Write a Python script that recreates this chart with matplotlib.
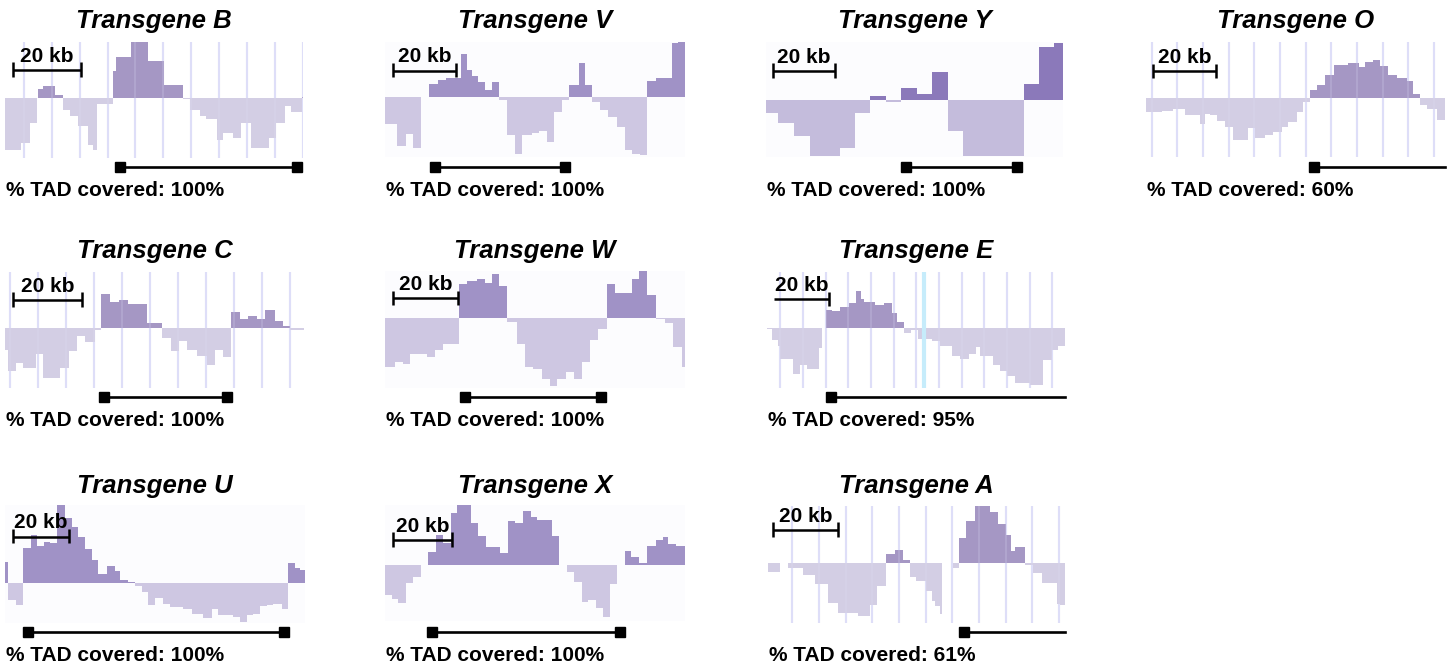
import numpy as np
import matplotlib
matplotlib.use('Agg')
import matplotlib.pyplot as plt
from matplotlib import transforms

plt.rcParams['font.family'] = ['Liberation Sans', 'DejaVu Sans']

# insulation-type score tracks, one step profile per transgene (x in kb)
names = ['B', 'V', 'Y', 'O', 'C', 'W', 'E', 'U', 'X', 'A']
covered = [100, 100, 100, 60, 100, 100, 95, 100, 100, 61]

b_edges = [0, 4.6, 7.4, 9.3, 9.8, 11.3, 14.7, 17.0, 19.1, 21.6, 24.5, 26.0, 27.2, 31.9, 32.6, 37.0,
           42.2, 46.8, 52.3, 54.4, 57.4, 59.3, 62.3, 64.2, 67.2, 69.6, 72.3, 77.7, 79.9, 82.4, 84.3,
           87.3, 87.7]
b_vals = [-1.3, -1.12, -0.62, 0, 0.23, 0.31, 0.07, -0.29, -0.46, -0.71, -1.17, -1.29, -0.15, 0.67,
          1.02, 1.4, 0.93, 0.33, -0.03, -0.29, -0.46, -0.52, -1.04, -0.88, -1.0, -0.62, -1.25, -1.0,
          -0.62, -0.21, -0.35, 0.02]

v_edges = [0, 3.7, 6.6, 8.9, 11.4, 14.0, 16.8, 19.3, 23.9, 26.0, 27.4, 29.2, 31.6, 33.7, 36.0, 38.4,
           41.1, 43.2, 46.3, 48.6, 51.1, 53.2, 55.8, 58.2, 61.1, 63.2, 65.3, 67.9, 70.5, 73.2, 75.8,
           77.9, 80.5, 82.6, 85.6, 90.5, 92.6, 94.7]
v_vals = [-0.67, -1.23, -0.92, -1.28, 0, 0.33, 0.42, 0.48, 1.07, 0.67, 0.52, 0.37, 0.18, 0.37, -0.08,
          -0.96, -1.42, -0.96, -0.9, -0.85, -1.12, -0.38, -0.08, 0.29, 0.86, 0.29, -0.12, -0.33, -0.5,
          -0.75, -1.33, -1.42, -1.46, 0.39, 0.48, 1.35, 1.4]

y_edges = [0, 4.0, 9.1, 14.1, 24.0, 28.9, 33.7, 38.9, 43.8, 48.9, 53.7, 58.8, 63.8, 83.5, 88.3, 93.2,
           96.2]
y_vals = [-0.33, -0.57, -0.9, -1.4, -1.19, -0.32, 0.11, -0.04, 0.31, 0.14, 0.71, -0.77, -1.4, 0.39,
          1.32, 1.42]

o_edges = [0, 4.9, 8.4, 12.3, 17.1, 18.6, 20.2, 22.5, 24.9, 27.6, 32.3, 34.4, 37.6, 40.2, 42.8, 44.9,
           47.6, 49.5, 51.8, 53.9, 56.5, 59.4, 63.9, 67.1, 69.2, 71.8, 73.9, 76.5, 79.2, 82.3, 84.4,
           86.5, 88.6, 91.8, 94.4]
o_vals = [-0.35, -0.32, -0.27, -0.42, -0.65, -0.4, -0.43, -0.58, -0.73, -1.04, -0.75, -1.0, -0.92,
          -0.86, -0.73, -0.6, -0.35, -0.1, 0.21, 0.33, 0.58, 0.83, 0.88, 0.77, 0.9, 0.96, 0.79, 0.57,
          0.5, 0.43, 0.1, -0.17, -0.27, -0.54]

c_edges = [0, 1.0, 3.2, 5.4, 9.1, 11.0, 16.1, 18.8, 21.2, 23.4, 26.3, 28.0, 30.7, 33.5, 36.1, 41.5,
           45.9, 48.5, 51.0, 53.2, 56.1, 59.0, 61.5, 63.9, 66.0, 68.8, 71.2, 73.7, 76.1, 79.0, 81.5,
           83.4, 87.5]
c_vals = [-0.54, -1.07, -0.88, -1.0, -0.65, -1.25, -1.0, -0.58, -0.21, -0.35, -0.04, 0.86, 0.65,
          0.71, 0.6, 0.13, -0.25, -0.57, -0.33, -0.54, -0.71, -0.92, -0.54, -0.73, 0.4, 0.23, 0.29,
          0.23, 0.46, 0.17, 0.04, -0.04]

w_edges = [0, 3.1, 5.4, 7.7, 12.8, 15.4, 17.9, 22.9, 25.3, 28.2, 30.8, 33.0, 35.2, 37.6, 40.5, 43.1,
           45.6, 48.2, 50.8, 53.0, 55.7, 58.2, 60.5, 63.1, 65.6, 68.2, 70.8, 75.9, 78.3, 80.7, 83.4,
           86.2, 88.7, 91.3, 92.3]
w_vals = [-1.22, -1.1, -1.14, -0.89, -0.98, -0.81, -0.64, 0.86, 0.93, 0.97, 0.88, 1.1, 0.8, -0.1,
          -0.64, -1.22, -1.28, -1.52, -1.7, -1.53, -1.35, -1.52, -1.1, -0.56, -0.27, 0.86, 0.63, 0.98,
          1.17, 0.58, -0.03, -0.12, -0.73, -1.22]

e_edges = [0, 1.8, 3.9, 4.8, 9.4, 12.0, 14.5, 18.7, 19.9, 21.4, 23.5, 26.3, 29.5, 32.3, 34.0, 35.2,
           39.2, 42.2, 45.2, 47.0, 49.6, 52.0, 54.8, 59.6, 62.7, 66.9, 69.9, 72.9, 75.7, 77.1, 81.9,
           84.3, 86.7, 89.8, 95.2, 100.0, 103.0, 105.4, 107.8]
e_vals = [-0.02, -0.29, -0.46, -0.77, -1.15, -0.92, -1.02, -0.5, 0, 0.46, 0.42, 0.52, 0.62, 0.93,
          0.73, 0.65, 0.57, 0.62, 0.37, 0.15, -0.12, -0.04, -0.27, -0.33, -0.46, -0.71, -0.77, -0.65,
          -0.48, -0.71, -0.92, -1.08, -1.21, -1.37, -1.42, -0.79, -0.54, -0.46]

u_edges = [0, 1.2, 4.0, 6.3, 9.2, 11.4, 14.0, 16.2, 18.8, 21.6, 24.0, 26.3, 28.7, 31.1, 33.5, 36.5,
           39.5, 41.3, 44.3, 46.7, 49.1, 51.5, 53.9, 56.9, 59.3, 64.1, 67.1, 71.3, 74.3, 76.6, 82.0,
           84.4, 86.8, 89.2, 91.6, 94.0, 96.4, 99.4, 101.8, 104.2, 106.0, 107.8]
u_vals = [0.53, -0.42, -0.56, 0.88, 1.19, 0.92, 1.03, 1.0, 1.94, 1.63, 1.4, 1.15, 0.86, 0.58, 0.23,
          0.42, 0.3, 0.08, 0.03, -0.08, -0.23, -0.56, -0.37, -0.52, -0.6, -0.64, -0.77, -0.87, -0.64,
          -0.81, -0.85, -0.97, -0.81, -0.77, -0.58, -0.56, -0.52, -0.64, 0.5, 0.38, 0.33]

x_edges = [0, 2.3, 4.5, 7.1, 9.6, 12.1, 14.7, 17.3, 19.5, 22.3, 24.5, 29.0, 31.6, 34.2, 39.0, 41.8,
           44.1, 46.7, 49.4, 51.6, 56.5, 59.1, 61.6, 64.1, 66.7, 68.9, 71.5, 74.0, 76.3, 78.8, 81.4,
           83.3, 86.2, 88.9, 91.9, 94.1, 96.0, 98.6, 101.7]
x_vals = [-0.75, -0.86, -0.94, -0.44, -0.29, 0, 0.33, 0.75, 0.56, 1.31, 1.5, 1.06, 0.73, 0.44, 0.31,
          1.11, 1.04, 1.35, 1.21, 1.13, 0.73, 0, -0.17, -0.42, -0.92, -0.88, -1.08, -1.29, -0.48, 0,
          0.36, 0.19, 0.04, 0.48, 0.63, 0.71, 0.53, 0.48]

a_edges = [0, 3.8, 6.2, 10.8, 14.4, 18.5, 21.5, 27.7, 31.3, 33.5, 36.2, 39.0, 41.5, 43.6, 45.6, 48.5,
           50.3, 51.3, 52.8, 53.6, 56.9, 58.8, 61.0, 63.6, 68.2, 70.8, 73.3, 74.6, 75.9, 79.0, 81.5,
           84.1, 88.7, 89.7, 91.3]
a_vals = [-0.23, 0, -0.13, -0.29, -0.52, -1.0, -1.25, -1.32, -1.04, -0.58, 0.23, 0.33, 0.07, -0.35,
          -0.46, -0.71, -0.96, -1.08, -1.27, 0, -0.12, 0.63, 1.04, 1.43, 1.27, 0.98, 0.71, 0.29, 0.4,
          -0.04, -0.25, -0.5, -1.02, -1.04]

tracks = [(b_edges, b_vals), (v_edges, v_vals), (y_edges, y_vals), (o_edges, o_vals),
          (c_edges, c_vals), (w_edges, w_vals), (e_edges, e_vals), (u_edges, u_vals),
          (x_edges, x_vals), (a_edges, a_vals)]

# TAD extent in kb (None = runs past the window)
tad_start = [33.7, 15.7, 45.4, 53.0, 28.9, 24.7, 23.2, 8.4, 16.0, 60.2]
tad_end = [85.8, 56.8, 81.4, None, 64.9, 66.5, None, 100.1, 79.7, None]

# 20 kb scale bar position (kb, score)
bar_x = [2.4, 2.5, 2.3, 2.2, 2.4, 2.5, 2.5, 2.9, 2.7, 1.5]
bar_y = [0.7, 0.66, 0.73, 0.67, 0.7, 0.49, 0.72, 1.16, 0.63, 0.83]

# gridline start / spacing in kb for the browser-style panels
grids = {'B': (5.6, 8.2), 'O': (1.8, 8.1), 'C': (1.5, 8.2), 'E': (4.8, 8.2), 'A': (7.5, 8.2)}

# ---- layout in pixels: track box (left, right, top, bottom, zero line), row index
W, H = 1453, 671
PX = 40.0  # pixels per score unit
boxes = [(5, 303, 42, 158, 98, 0), (385, 685, 42, 157, 97, 0), (766, 1063, 42, 157, 100, 0),
         (1146, 1445, 42, 157, 98, 0), (5, 304, 272, 388, 328, 1), (385, 685, 271, 388, 318, 1),
         (767, 1065, 272, 388, 328, 1), (5, 305, 505, 623, 583, 2), (385, 685, 505, 621, 565, 2),
         (768, 1065, 506, 623, 563, 2)]
title_base = [28, 258, 493]
tad_y = [167, 397, 632]
foot_base = [196, 426, 661]

pale = ('#a597c4', '#d3cee4', 'white')
video = ('#a092c6', '#cec7e2', '#fcfcfe')
styles = {'B': pale, 'O': pale, 'C': pale, 'E': pale, 'A': pale,
          'V': video, 'W': video, 'U': video, 'X': video,
          'Y': ('#8b79ba', '#c4bcdc', '#fcfcfe')}

fig = plt.figure(figsize=(W / 100, H / 100), dpi=100)

for i, name in enumerate(names):
    x0, x1, y0, y1, zy, row = boxes[i]
    edges, vals = np.array(tracks[i][0]), np.array(tracks[i][1])
    pos_c, neg_c, bg = styles[name]

    ax = fig.add_axes([x0 / W, 1 - y1 / H, (x1 - x0) / W, (y1 - y0) / H])
    ax.set_facecolor(bg)
    for s in ax.spines.values():
        s.set_visible(False)
    ax.set_xticks([])
    ax.set_yticks([])
    ax.set_xlim(edges[0], edges[-1])
    ax.set_ylim(-(y1 - zy) / PX, (zy - y0) / PX)

    step_v = np.append(vals, vals[-1])
    ax.fill_between(edges, np.clip(step_v, 0, None), 0, step='post', color=pos_c, lw=0, zorder=2)
    ax.fill_between(edges, np.clip(step_v, None, 0), 0, step='post', color=neg_c, lw=0, zorder=2)

    if name in grids:
        g0, gs = grids[name]
        for gx in np.arange(g0, edges[-1], gs):
            ax.axvline(gx, color='#dedef8', lw=1.5, zorder=1)
            ax.axvline(gx, color='#dedef8', lw=1.5, alpha=0.2, zorder=3)
    if name == 'E':
        ax.axvline(56.9, color='#c6ecfb', lw=3, zorder=3)

    # 20 kb scale bar
    sx, sy = bar_x[i], bar_y[i]
    ax.plot([sx, sx + 20], [sy, sy], color='black', lw=1.8, solid_capstyle='butt', zorder=6)
    ends = [sx + 20] if name == 'E' else [sx, sx + 20]
    for ex in ends:
        ax.plot([ex, ex], [sy - 0.17, sy + 0.19], color='black', lw=1.8,
                solid_capstyle='butt', zorder=6)
    ax.annotate('20 kb', xy=(sx + 10, sy), xytext=(0, 3), textcoords='offset points',
                ha='center', va='bottom', fontsize=15, fontweight='bold', zorder=7)

    # TAD extent below the track
    trans = transforms.blended_transform_factory(ax.transData, fig.transFigure)
    ty = 1 - tad_y[row] / H
    te = tad_end[i] if tad_end[i] is not None else edges[-1]
    ax.plot([tad_start[i], te], [ty, ty], color='black', lw=1.9, transform=trans, clip_on=False)
    sq = [tad_start[i]] if tad_end[i] is None else [tad_start[i], tad_end[i]]
    ax.plot(sq, [ty] * len(sq), ls='none', marker='s', ms=7.5, color='black',
            transform=trans, clip_on=False)

    fig.text((x0 + x1) / 2 / W, 1 - title_base[row] / H, f'Transgene {name}', ha='center',
             va='baseline', fontsize=18.5, fontweight='bold', fontstyle='italic')
    fig.text((x0 + 1) / W, 1 - foot_base[row] / H, f'% TAD covered: {covered[i]}%', ha='left',
             va='baseline', fontsize=15, fontweight='bold')

fig.savefig('out.png', dpi=100)
